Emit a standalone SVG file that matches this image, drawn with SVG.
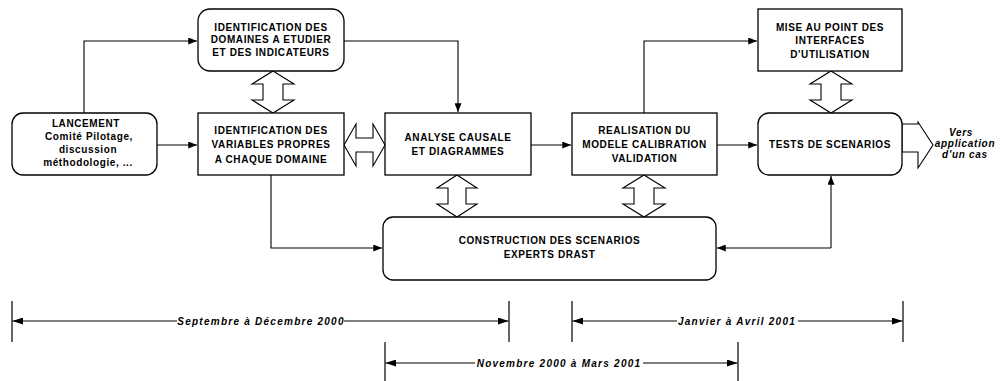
<svg xmlns="http://www.w3.org/2000/svg" width="1005" height="381" viewBox="0 0 1005 381">
<defs>
<marker id="a" viewBox="0 0 10 8" refX="10" refY="4" markerWidth="9" markerHeight="7" markerUnits="userSpaceOnUse" orient="auto"><path d="M0,0 L10,4 L0,8 z" fill="#000"/></marker>
<marker id="t" viewBox="0 0 12 8" refX="12" refY="4" markerWidth="12" markerHeight="7" markerUnits="userSpaceOnUse" orient="auto"><path d="M0,0 L12,4 L0,8 z" fill="#000"/></marker>
<style>
.box{fill:#fff;stroke:#000;stroke-width:1.3}
.dbl{fill:#fff;stroke:#000;stroke-width:1.1}
.c{fill:none;stroke:#000;stroke-width:1.1}
.tl{fill:none;stroke:#000;stroke-width:1.1}
.tk{fill:none;stroke:#000;stroke-width:1.2}
text{font-family:"Liberation Sans",Arial,sans-serif;font-size:10px;font-weight:bold;fill:#000;text-anchor:middle}
.n{letter-spacing:0.6px}
.l{letter-spacing:0.6px}
.v{font-style:italic;letter-spacing:0.7px}
.i{font-style:italic;letter-spacing:1.25px}
</style>
</defs>
<rect width="1005" height="381" fill="#fff"/>

<g id="connectors">
<polyline class="c" points="84,113 84,41 197,41" marker-end="url(#a)"/>
<line class="c" x1="157" y1="145" x2="197" y2="145" marker-end="url(#a)"/>
<polyline class="c" points="344,41 458,41 458,112" marker-end="url(#a)"/>
<line class="c" x1="531" y1="145" x2="571" y2="145" marker-end="url(#a)"/>
<polyline class="c" points="644,113 644,41 757,41" marker-end="url(#a)"/>
<line class="c" x1="717" y1="145" x2="757" y2="145" marker-end="url(#a)"/>
<polyline class="c" points="271,175 271,248 382,248" marker-end="url(#a)"/>
<polyline class="c" points="831,248 717,248" marker-end="url(#a)"/>
<polyline class="c" points="831,248 831,176" marker-end="url(#a)"/>
<polygon class="dbl" points="273,71 294,84 283,84 283,100 294,100 273,113 252,100 263,100 263,84 252,84"/>
<polygon class="dbl" points="344,145 356,124 356,138 373,138 373,124 385,145 373,166 373,152 356,152 356,166"/>
<polygon class="dbl" points="457,175 477,188 466,188 466,204 477,204 457,217 437,204 448,204 448,188 437,188"/>
<polygon class="dbl" points="644,175 665,188 654,188 654,204 665,204 644,217 623,204 634,204 634,188 623,188"/>
<polygon class="dbl" points="831,71 852,84 841,84 841,100 852,100 831,113 810,100 821,100 821,84 810,84"/>
<polygon class="dbl" points="902,124 918,124 918,122 933,145 918,168 918,152 902,152"/>
</g>

<g id="lancement">
<rect class="box" x="12" y="113" width="145" height="62" rx="11"/>
<text class="l" x="86" y="127">LANCEMENT</text>
<text class="l" x="89" y="140">Comité Pilotage,</text>
<text class="l" x="88" y="153">discussion</text>
<text class="l" x="88" y="166">méthodologie, ...</text>
</g>

<g id="domaines">
<rect class="box" x="198" y="9" width="146" height="62" rx="12"/>
<text class="n" x="271" y="30.5">IDENTIFICATION DES</text>
<text class="n" x="271" y="43">DOMAINES A ETUDIER</text>
<text class="n" x="271" y="55.5">ET DES INDICATEURS</text>
</g>

<g id="variables">
<rect class="box" x="198" y="113" width="146" height="62"/>
<text class="n" x="271" y="133.5">IDENTIFICATION DES</text>
<text class="n" x="271" y="148">VARIABLES PROPRES</text>
<text class="n" x="271" y="162.5">A CHAQUE DOMAINE</text>
</g>

<g id="analyse">
<rect class="box" x="385" y="113" width="146" height="62"/>
<text class="n" x="458" y="141">ANALYSE CAUSALE</text>
<text class="n" x="458" y="154.5">ET DIAGRAMMES</text>
</g>

<g id="realisation">
<rect class="box" x="572" y="113" width="145" height="62"/>
<text class="n" x="644.5" y="133.5">REALISATION DU</text>
<text class="n" x="644.5" y="147.5">MODELE CALIBRATION</text>
<text class="n" x="644.5" y="161.5">VALIDATION</text>
</g>

<g id="mise">
<rect class="box" x="758" y="9" width="144" height="62"/>
<text class="n" x="830" y="31">MISE AU POINT DES</text>
<text class="n" x="830" y="44">INTERFACES</text>
<text class="n" x="830" y="57.5">D'UTILISATION</text>
</g>

<g id="tests">
<rect class="box" x="758" y="113" width="144" height="62" rx="11"/>
<text class="n" x="830" y="148">TESTS DE SCENARIOS</text>
</g>

<g id="construction">
<rect class="box" x="383" y="217" width="333" height="63" rx="10"/>
<text class="n" x="549.5" y="243.5">CONSTRUCTION DES SCENARIOS</text>
<text class="n" x="549.5" y="258">EXPERTS DRAST</text>
</g>

<g id="vers">
<text class="v" x="961" y="136">Vers</text>
<text class="v" x="965" y="147">application</text>
<text class="v" x="965" y="158">d'un cas</text>
</g>

<g id="timeline">
<line class="tk" x1="12" y1="301" x2="12" y2="342"/>
<line class="tk" x1="509" y1="301" x2="509" y2="342"/>
<line class="tl" x1="177" y1="321" x2="12.5" y2="321" marker-end="url(#t)"/>
<line class="tl" x1="344" y1="321" x2="508.5" y2="321" marker-end="url(#t)"/>
<text class="i" x="261" y="325">Septembre à Décembre 2000</text>

<line class="tk" x1="572" y1="301" x2="572" y2="342"/>
<line class="tk" x1="903" y1="301" x2="903" y2="342"/>
<line class="tl" x1="677" y1="321" x2="572.5" y2="321" marker-end="url(#t)"/>
<line class="tl" x1="798" y1="321" x2="902.5" y2="321" marker-end="url(#t)"/>
<text class="i" x="737" y="325">Janvier à Avril 2001</text>

<line class="tk" x1="385" y1="342" x2="385" y2="381"/>
<line class="tk" x1="738" y1="342" x2="738" y2="381"/>
<line class="tl" x1="475" y1="363" x2="385.5" y2="363" marker-end="url(#t)"/>
<line class="tl" x1="643" y1="363" x2="737.5" y2="363" marker-end="url(#t)"/>
<text class="i" x="559" y="367">Novembre 2000 à Mars 2001</text>
</g>
</svg>
